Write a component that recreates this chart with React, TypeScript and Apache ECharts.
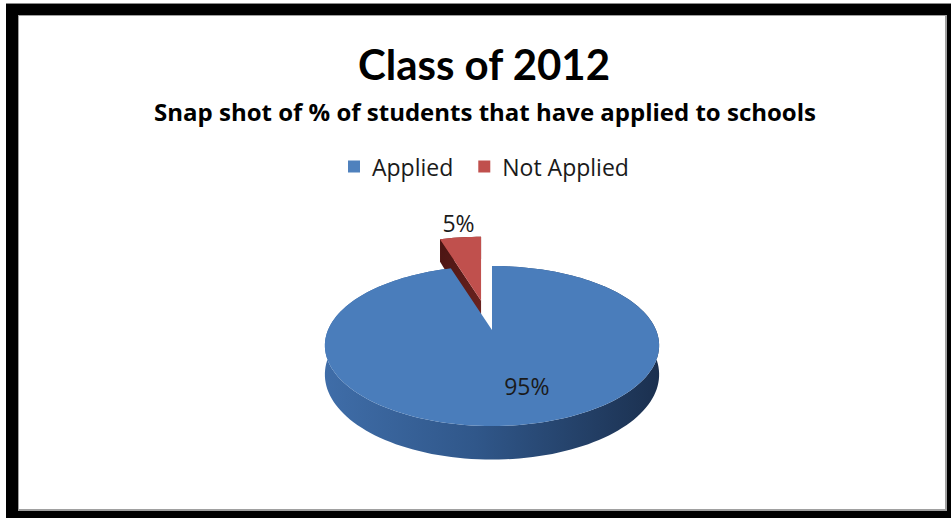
import React, { useEffect, useRef } from "react";
import * as echarts from "echarts";

const titleText = "Class of 2012";
const subtitleText = "Snap shot of % of students that have applied to schools";
const categories = ["Applied", "Not Applied"];
const values = [95, 5];
const explodeRatio = [0, 0.37];
const topColors = ["#4A7DBB", "#C0504D"];
const TITLE_FONT = "Lato, 'Open Sans', sans-serif";
const FONT = "'Open Sans', Lato, sans-serif";

// geometry of the tilted disk
const CX = 492;
const CY = 330;
const RX = 164;
const RY = 80;
const K = 0.2;
const THICK = 28;

function project(X: number, Z: number, h: number): number[] {
  const p = 1 + K * Z;
  return [CX + RX * X * p, CY + RY * Z * p + h * p];
}

function makeRender(i: number) {
  return (params: any, api: any) => {
    const total = values.reduce((a, b) => a + b, 0);
    let cum = 0;
    for (let j = 0; j < i; j++) cum += values[j];
    const v = api.value(0);
    const a0 = (cum / total) * Math.PI * 2;
    const a1 = ((cum + v) / total) * Math.PI * 2;
    const mid = (a0 + a1) / 2;
    const e = explodeRatio[i];
    // explosion applied as a screen-space shift
    const sx = e * RX * Math.sin(mid) * 1.15;
    const sy = -e * RY * Math.cos(mid);
    const pt = (ang: number, r: number, h: number) => {
      const q = project(r * Math.sin(ang), -r * Math.cos(ang), h);
      return [q[0] + sx, q[1] + sy];
    };

    const steps = Math.max(4, Math.ceil(((a1 - a0) / (Math.PI * 2)) * 180));
    const topArc: number[][] = [];
    const botArc: number[][] = [];
    for (let s = 0; s <= steps; s++) {
      const ang = a0 + ((a1 - a0) * s) / steps;
      topArc.push(pt(ang, 1, 0));
      botArc.push(pt(ang, 1, THICK));
    }
    const cTop = pt(0, 0, 0);
    const cBot = pt(0, 0, THICK);

    const children: any[] = [];
    const isBlue = i === 0;
    const wallFill = isBlue
      ? new echarts.graphic.LinearGradient(0, 0, 1, 0, [
          { offset: 0, color: "#3F6DA8" },
          { offset: 0.45, color: "#30578A" },
          { offset: 1, color: "#1B304F" },
        ])
      : new echarts.graphic.LinearGradient(0, 0, 1, 0, [
          { offset: 0, color: "#8E2F2C" },
          { offset: 1, color: "#5A1816" },
        ]);
    // outer wall
    children.push({
      type: "polygon",
      shape: { points: topArc.concat(botArc.slice().reverse()) },
      style: { fill: wallFill },
    });
    // cut faces (back-face culled by screen orientation)
    const faces = [
      [cTop, topArc[0], botArc[0], cBot],
      [cTop, cBot, botArc[botArc.length - 1], topArc[topArc.length - 1]],
    ];
    faces.forEach((f) => {
      let area = 0;
      for (let m = 0; m < f.length; m++) {
        const p1 = f[m];
        const p2 = f[(m + 1) % f.length];
        area += p1[0] * p2[1] - p2[0] * p1[1];
      }
      if (area < -0.5) {
        children.push({
          type: "polygon",
          shape: { points: f },
          style: {
            fill: isBlue
              ? "#2A4D7A"
              : new echarts.graphic.LinearGradient(0, 0, 1, 1, [
                  { offset: 0, color: "#4A1412" },
                  { offset: 1, color: "#6E2421" },
                ]),
          },
        });
      }
    });
    // top face
    children.push({
      type: "polygon",
      shape: { points: [cTop].concat(topArc) },
      style: { fill: topColors[i] },
    });
    // label
    const pct = Math.round((v / total) * 100) + "%";
    let lp: number[];
    if (isBlue) {
      lp = pt(mid, 0.62, 0);
      lp = [lp[0] + 17, lp[1] + 1];
    } else {
      lp = pt(mid, 1, 0);
      lp = [lp[0] - 2, lp[1] - 14];
    }
    children.push({
      type: "text",
      style: {
        text: pct,
        x: lp[0],
        y: lp[1],
        align: "center",
        verticalAlign: "middle",
        fontFamily: FONT,
        fontSize: 23,
        fill: "#1A1A1A",
      },
    });
    return { type: "group", children };
  };
}

export default function App() {
  const ref = useRef<HTMLDivElement>(null);
  useEffect(() => {
    if (!ref.current) return;
    const chart = echarts.init(ref.current, null, { renderer: "svg" });
    chart.setOption({
      animation: false,
      backgroundColor: "#FFFFFF",
      graphic: [
        { type: "rect", z: -10, shape: { x: 6, y: 3, width: 945, height: 1 }, style: { fill: "#8A8A8A" } },
        { type: "rect", z: -10, shape: { x: 6, y: 4, width: 945, height: 514 }, style: { fill: "#000000" } },
        { type: "rect", z: -9, shape: { x: 18, y: 15, width: 929, height: 496 }, style: { fill: "#A0A0A0" } },
        { type: "rect", z: -8, shape: { x: 19, y: 16, width: 926, height: 493 }, style: { fill: "#FFFFFF" } },
      ],
      title: [
        {
          text: titleText,
          left: 479,
          top: 38,
          textAlign: "center",
          textStyle: { fontFamily: TITLE_FONT, fontWeight: "bold", fontSize: 42, color: "#000000" },
        },
        {
          text: subtitleText,
          left: 480,
          top: 94,
          textAlign: "center",
          textStyle: { fontFamily: FONT, fontWeight: "bold", fontSize: 24, color: "#000000" },
        },
      ],
      legend: {
        data: categories,
        left: 343,
        top: 150,
        icon: "rect",
        itemWidth: 12,
        itemHeight: 12,
        itemGap: 25,
        textStyle: { fontFamily: FONT, fontSize: 23, color: "#1A1A1A", padding: [0, 0, 0, 7] },
        selectedMode: false,
      },
      series: categories.map((name, i) => ({
        type: "custom",
        name,
        coordinateSystem: "none",
        z: i === 0 ? 3 : 2,
        itemStyle: { color: i === 0 ? "#4F81BD" : "#C0504D" },
        data: [[values[i]]],
        renderItem: makeRender(i),
      })),
    });
    return () => chart.dispose();
  }, []);
  return (
    <div
      ref={ref}
      style={{ position: "fixed", left: 0, top: 0, width: 951, height: 518 }}
    />
  );
}
